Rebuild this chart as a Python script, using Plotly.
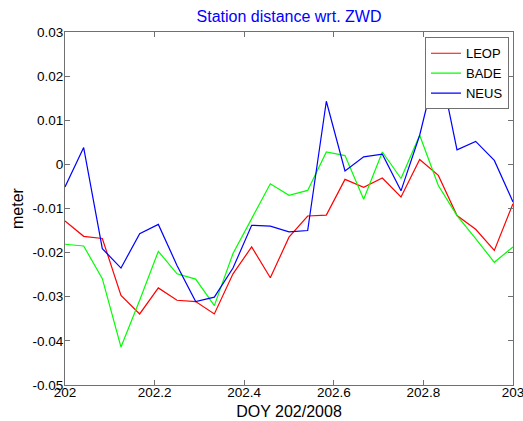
import plotly.graph_objects as go

hours = list(range(25))
doy = [202 + h / 24 for h in hours]

leop = [-0.0128, -0.0163, -0.0168, -0.0297, -0.0339, -0.0280, -0.0308, -0.0311,
        -0.0339, -0.0248, -0.0187, -0.0257, -0.0165, -0.0117, -0.0115, -0.0034,
        -0.0052, -0.0031, -0.0074, 0.0011, -0.0025, -0.0116, -0.0147, -0.0195, -0.0089]
bade = [-0.0181, -0.0185, -0.0259, -0.0414, -0.0308, -0.0197, -0.0248, -0.0260,
        -0.0320, -0.0202, -0.0123, -0.0044, -0.0070, -0.0059, 0.0028, 0.0020,
        -0.0079, 0.0028, -0.0032, 0.0066, -0.0048, -0.0116, -0.0168, -0.0222, -0.0187]
neus = [-0.0051, 0.0038, -0.0191, -0.0235, -0.0157, -0.0136, -0.0229, -0.0311,
        -0.0301, -0.0235, -0.0138, -0.0140, -0.0153, -0.0150, 0.0143, -0.0015,
        0.0017, 0.0023, -0.0060, 0.0066, 0.0239, 0.0033, 0.0052, 0.0009, -0.0085]

xticks = [202, 202.2, 202.4, 202.6, 202.8, 203]
xticklabels = ["202", "202.2", "202.4", "202.6", "202.8", "203"]
yticks = [-0.05, -0.04, -0.03, -0.02, -0.01, 0, 0.01, 0.02, 0.03]
yticklabels = ["-0.05", "-0.04", "-0.03", "-0.02", "-0.01", "0", "0.01", "0.02", "0.03"]

font = "Liberation Sans, Arial, sans-serif"

fig = go.Figure()
for name, vals, col in [("LEOP", leop, "#ff0000"), ("BADE", bade, "#00ff00"), ("NEUS", neus, "#0000ff")]:
    fig.add_trace(go.Scatter(x=doy, y=vals, mode="lines", name=name,
                             line=dict(color=col, width=1.2)))

axis_common = dict(showgrid=False, zeroline=False, showline=True, linecolor="#707070",
                   linewidth=1, mirror="ticks", ticks="inside", ticklen=5, automargin=False,
                   ticklabeloverflow="allow",
                   tickcolor="#707070", tickfont=dict(family=font, size=13.5, color="black"))

fig.update_layout(
    width=523, height=421,
    margin=dict(l=65, r=10, t=32, b=36, autoexpand=False),
    paper_bgcolor="white", plot_bgcolor="white",
    font=dict(family=font, color="black"),
    title=dict(text="Station distance wrt. ZWD", x=0.5, xanchor="center",
               y=1 - 16 / 421, yanchor="middle", xref="paper",
               font=dict(family=font, size=16, color="#0000ff")),
    xaxis=dict(range=[202, 203], tickvals=xticks, ticktext=xticklabels,
               ticklabelstandoff=-5,
               title=dict(text="DOY 202/2008", font=dict(family=font, size=16), standoff=6),
               **axis_common),
    yaxis=dict(range=[-0.05, 0.03], tickvals=yticks, ticktext=yticklabels,
               ticklabelstandoff=-2,
               title=dict(text="meter", font=dict(family=font, size=16), standoff=4),
               **axis_common),
    legend=dict(x=0.991, y=0.985, xanchor="right", yanchor="top",
                bgcolor="white", bordercolor="#707070", borderwidth=1,
                font=dict(family=font, size=13, color="black"),
                tracegroupgap=0),
    showlegend=True,
)

fig.write_html("out.html", config={"displayModeBar": False},
               post_script="document.body.style.margin='0';document.body.style.overflow='hidden';")
